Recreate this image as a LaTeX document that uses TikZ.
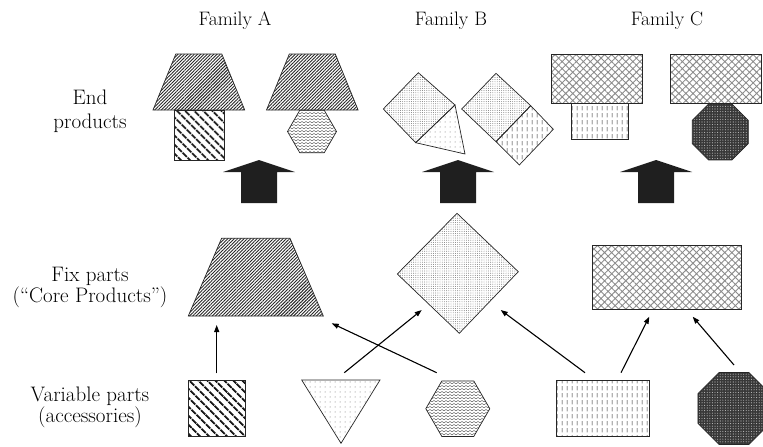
\documentclass[tikz,border=0pt]{standalone}
\usepackage{fontspec}
\usetikzlibrary{patterns,patterns.meta,arrows.meta}
\pgfdeclarepatternformonly{zigzag}{\pgfpoint{-1pt}{-1pt}}{\pgfpoint{5pt}{3pt}}{\pgfpoint{4pt}{3pt}}{%
  \pgfsetlinewidth{0.5pt}%
  \pgfpathmoveto{\pgfpoint{0pt}{0.2pt}}%
  \pgfpathlineto{\pgfpoint{2pt}{1.5pt}}%
  \pgfpathlineto{\pgfpoint{4pt}{0.2pt}}%
  \pgfusepath{stroke}}
\pgfdeclarepatternformonly{vdash}{\pgfpoint{0pt}{0pt}}{\pgfpoint{5pt}{7pt}}{\pgfpoint{5pt}{7pt}}{%
  \pgfsetlinewidth{0.7pt}%
  \pgfpathmoveto{\pgfpoint{2.5pt}{0.8pt}}%
  \pgfpathlineto{\pgfpoint{2.5pt}{5.5pt}}%
  \pgfusepath{stroke}}
\begin{document}
\begin{tikzpicture}[x=1pt,y=-1pt,
  lbl/.style={font=\fontsize{21}{24}\selectfont, anchor=base, inner sep=0pt},
  flbl/.style={font=\fontsize{19.5}{23}\selectfont, anchor=base, inner sep=0pt},
  outline/.style={draw=black!85, line width=0.7pt},
  conn/.style={-{Triangle[length=7pt,width=5pt]}, line width=1.1pt},
  bigarrow/.style={fill=black!88},
  trapfill/.style={outline, pattern={Lines[angle=45,distance=2.3pt,line width=0.9pt]}, pattern color=black!85},
  stripefill/.style={outline, pattern={Lines[angle=-45,distance=6.5pt,line width=2.2pt]}, pattern color=black!90},
  zigfill/.style={outline, pattern=zigzag, pattern color=black!60},
  finedots/.style={outline, pattern={Dots[distance=2.2pt,radius=0.45pt]}, pattern color=black!60},
  sparsedots/.style={outline, pattern={Dots[distance=5pt,radius=0.5pt]}, pattern color=black!60},
  vdashfill/.style={outline, pattern=vdash, pattern color=black!85},
  hatchfill/.style={outline, pattern={Hatch[angle=45,distance=5pt,line width=0.9pt]}, pattern color=black!45},
  gridfill/.style={outline, preaction={fill=black!78}, pattern={Dots[distance=2.6pt,radius=0.55pt]}, pattern color=black!25}
]
\useasboundingbox (0,0) rectangle (763,447);

% column labels
\node[flbl] (famA) at (235,25) {Family A};
\node[flbl] (famB) at (451,25) {Family B};
\node[flbl] (famC) at (667,25) {Family C};

% row labels
\node[lbl] (end1) at (90,104) {End};
\node[lbl] (end2) at (90,128) {products};
\node[lbl] (fix1) at (90,281) {Fix parts};
\node[lbl] (fix2) at (90,302) {(``Core Products'')};
\node[lbl] (var1) at (90,401) {Variable parts};
\node[lbl] (var2) at (90,422) {(accessories)};

% ---------- End products, family A ----------
\draw[trapfill] (175.8,54) -- (221.8,54) -- (244.7,110) -- (153,110) -- cycle;
\draw[stripefill] (174.3,110) rectangle (224,160);
\draw[trapfill] (289.3,54) -- (335.3,54) -- (358.1,110) -- (266.5,110) -- cycle;
\coordinate (hexA) at (312,131.5);
\draw[zigfill] (hexA) +(0:24.5) -- +(60:24.5) -- +(120:24.5) -- +(180:24.5) -- +(240:24.5) -- +(300:24.5) -- cycle;

% ---------- End products, family B ----------
\draw[finedots] (418.3,72.7) -- (455,105) -- (415.7,142.7) -- (383.3,109) -- cycle;
\draw[sparsedots] (455,105) -- (465,154) -- (415.7,142.7) -- cycle;
\draw[finedots] (496,73.3) -- (530.7,105.7) -- (496,141.7) -- (461.7,109) -- cycle;
\draw[vdashfill] (530.7,105.7) -- (553.3,129.3) -- (519.3,165) -- (496,141.7) -- cycle;

% ---------- End products, family C ----------
\draw[hatchfill] (551,54) rectangle (642.3,103.3);
\draw[vdashfill] (571.7,103.3) rectangle (628.3,139);
\draw[hatchfill] (670.7,54) rectangle (761.7,103.3);
\coordinate (octC) at (720.3,132);
\draw[gridfill] (octC) +(22.5:30.3) -- +(67.5:30.3) -- +(112.5:30.3) -- +(157.5:30.3) -- +(202.5:30.3) -- +(247.5:30.3) -- +(292.5:30.3) -- +(337.5:30.3) -- cycle;

% ---------- big black arrows ----------
\foreach \cx in {259,458,656}{
  \fill[bigarrow] (\cx-36,172) -- (\cx,160) -- (\cx+36,172) -- (\cx+18,172) -- (\cx+18,203) -- (\cx-18,203) -- (\cx-18,172) -- cycle;
}

% ---------- Fix parts ----------
\draw[trapfill] (221.6,238.3) -- (290,238.3) -- (323.3,316) -- (188.3,316) -- cycle;
\draw[finedots] (457,213.3) -- (518.3,271.7) -- (459.3,333.3) -- (397.3,274) -- cycle;
\draw[hatchfill] (592.3,245) rectangle (741.7,309.3);

% ---------- Variable parts ----------
\draw[stripefill] (188.3,380) rectangle (245,436.7);
\draw[sparsedots] (301.7,380) -- (380,380) -- (341,443.3) -- cycle;
\coordinate (hexV) at (457.8,408.7);
\draw[zigfill] (hexV) +(0:32) -- +(60:32) -- +(120:32) -- +(180:32) -- +(240:32) -- +(300:32) -- cycle;
\draw[vdashfill] (556.7,380) rectangle (649.3,436.7);
\coordinate (octV) at (734,408.5);
\draw[gridfill] (octV) +(22.5:39) -- +(67.5:39) -- +(112.5:39) -- +(157.5:39) -- +(202.5:39) -- +(247.5:39) -- +(292.5:39) -- +(337.5:39) -- cycle;

% ---------- connectors ----------
\coordinate (sqOut) at (216.7,373.3);
\coordinate (trapInL) at (216.7,325);
\coordinate (hexOut) at (436.7,372.7);
\coordinate (trapInR) at (331.7,323.3);
\coordinate (triOut) at (344.3,372.7);
\coordinate (diaInL) at (421.7,310);
\coordinate (recOutL) at (585,372.7);
\coordinate (diaInR) at (500.7,310);
\coordinate (recOutR) at (621,372.7);
\coordinate (cInL) at (649.3,316.7);
\coordinate (octOut) at (734,365);
\coordinate (cInR) at (692.7,316.7);
\draw[conn] (sqOut) -- (trapInL);
\draw[conn] (hexOut) -- (trapInR);
\draw[conn] (triOut) -- (diaInL);
\draw[conn] (recOutL) -- (diaInR);
\draw[conn] (recOutR) -- (cInL);
\draw[conn] (octOut) -- (cInR);
\end{tikzpicture}
\end{document}
